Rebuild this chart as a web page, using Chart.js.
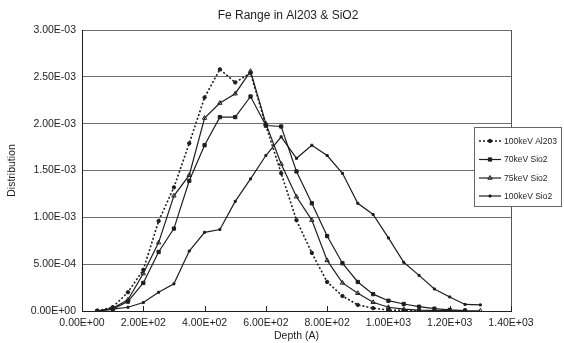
<!DOCTYPE html>
<html>
<head>
<meta charset="utf-8">
<script src="https://cdn.jsdelivr.net/npm/chart.js@4/dist/chart.umd.min.js"></script>
<style>
  html, body { margin: 0; padding: 0; background: #fff; }
  canvas { display: block; }
</style>
</head>
<body>
<canvas id="c" width="564" height="343"></canvas>
<script>
// Depth in angstroms, sampled every 50 A
const depth = [50, 100, 150, 200, 250, 300, 350, 400, 450, 500, 550, 600, 650,
               700, 750, 800, 850, 900, 950, 1000, 1050, 1100, 1150, 1200, 1250, 1300];

// Fe distribution per implant condition (null = no sample)
const al2o3_100keV = [0, 0.00004, 0.00020, 0.00044, 0.00096, 0.00132, 0.00179, 0.00228, 0.00258, 0.00244, 0.00254, 0.00198, 0.00147,
                      0.00097, 0.00062, 0.00031, 0.00016, 0.000065, 0.00003, 0.00001, 0.000005, 0.000002, null, null, null, null];
const sio2_70keV   = [0, 0.00002, 0.00010, 0.00030, 0.00063, 0.00088, 0.00139, 0.00177, 0.00207, 0.00207, 0.00229, 0.00198, 0.00197,
                      0.00149, 0.00115, 0.00080, 0.00051, 0.00031, 0.00018, 0.00011, 0.000075, 0.000046, 0.000025, 0.000012, 0.000005, null];
const sio2_75keV   = [0, 0.00003, 0.00012, 0.00040, 0.00073, 0.00123, 0.00145, 0.00206, 0.00222, 0.00232, 0.00256, 0.00200, 0.00157,
                      0.00122, 0.00097, 0.00054, 0.00030, 0.00019, 0.000093, 0.00004, 0.00002, 0.00001, 0.000005, 0.000003, 0.000002, 0.000002];
const sio2_100keV  = [0, 0.00002, 0.00004, 0.00009, 0.00020, 0.00029, 0.00064, 0.00084, 0.00087, 0.00117, 0.00141, 0.00166, 0.00186,
                      0.00163, 0.00177, 0.00166, 0.00147, 0.00115, 0.00103, 0.00078, 0.00052, 0.00038, 0.000235, 0.00015, 0.00007, 0.000065];

const seriesLabels = ['100keV Al203', '70keV Sio2', '75keV Sio2', '100keV Sio2'];
const chartTitle = 'Fe Range in Al203 & SiO2';
const xTitle = 'Depth (A)';
const yTitle = 'Distribution';

// axis ranges and tick steps
const xMin = 0, xMax = 1400, xStep = 200;
const yMin = 0, yMax = 0.003, yStep = 0.0005;

const INK = '#1e1e1e';
const FONT = '"Liberation Sans", Arial, Helvetica, sans-serif';

function toPoints(values) {
  const pts = [];
  values.forEach((v, i) => { if (v !== null) pts.push({ x: depth[i], y: v }); });
  return pts;
}

// Spreadsheet-style scientific notation: 2.50E-03
function sci(v) {
  if (Math.abs(v) < 1e-12) return '0.00E+00';
  let e = Math.floor(Math.log10(Math.abs(v)) + 1e-9);
  let m = v / Math.pow(10, e);
  if (Math.abs(m) >= 9.995) { m /= 10; e += 1; }
  const sign = e < 0 ? '-' : '+';
  const ee = String(Math.abs(e)).padStart(2, '0');
  return m.toFixed(2) + 'E' + sign + ee;
}

const styles = [
  { borderDash: [2, 2], borderWidth: 1.6, pointStyle: 'circle', pointRadius: 1.7, pointBackgroundColor: INK },
  { borderDash: [], borderWidth: 1.2, pointStyle: 'rect', pointRadius: 2.3, pointBackgroundColor: INK },
  { borderDash: [], borderWidth: 1.2, pointStyle: 'triangle', pointRadius: 2.5, pointBackgroundColor: 'rgba(255,255,255,0)' },
  { borderDash: [], borderWidth: 1.2, pointStyle: 'rect', pointRadius: 1.4, pointBackgroundColor: INK }
];
const seriesValues = [al2o3_100keV, sio2_70keV, sio2_75keV, sio2_100keV];

const datasets = seriesValues.map((vals, i) => Object.assign({
  label: seriesLabels[i],
  data: toPoints(vals),
  borderColor: INK,
  pointBorderColor: INK,
  pointBorderWidth: 1,
  tension: 0,
  fill: false
}, styles[i]));

// Title, inner tick marks, plot frame and boxed legend
const decorations = {
  id: 'decorations',
  beforeDatasetsDraw(chart) {
    const { ctx, chartArea: a, scales: { x } } = chart;
    ctx.save();
    ctx.strokeStyle = '#555';
    ctx.lineWidth = 1;
    ctx.beginPath();
    ctx.moveTo(Math.round(a.right) + 0.5, a.top);
    ctx.lineTo(Math.round(a.right) + 0.5, a.bottom);
    ctx.stroke();
    ctx.strokeStyle = INK;
    ctx.beginPath();
    x.ticks.forEach(t => {
      const px = Math.round(x.getPixelForValue(t.value)) + 0.5;
      ctx.moveTo(px, a.bottom);
      ctx.lineTo(px, a.bottom - 5);
    });
    ctx.stroke();
    ctx.restore();
  },
  afterDraw(chart) {
    const { ctx } = chart;
    ctx.save();
    // title
    ctx.fillStyle = INK;
    ctx.font = '12px ' + FONT;
    ctx.textAlign = 'center';
    ctx.textBaseline = 'middle';
    ctx.fillText(chartTitle, 288, 16);

    // legend box
    const bx = 474.5, by = 127.5, bw = 87, bh = 79;
    ctx.fillStyle = '#fff';
    ctx.fillRect(bx, by, bw, bh);
    ctx.strokeStyle = '#666';
    ctx.lineWidth = 1;
    ctx.strokeRect(bx, by, bw, bh);
    ctx.font = '8.5px ' + FONT;
    ctx.textAlign = 'left';
    const rows = [141, 159.5, 178, 196];
    chart.data.datasets.forEach((ds, i) => {
      const y = rows[i];
      ctx.strokeStyle = INK;
      ctx.lineWidth = ds.borderWidth;
      ctx.setLineDash(ds.borderDash || []);
      ctx.beginPath();
      ctx.moveTo(479, y);
      ctx.lineTo(501, y);
      ctx.stroke();
      ctx.setLineDash([]);
      ctx.fillStyle = ds.pointBackgroundColor;
      ctx.lineWidth = 1;
      if (Chart.helpers && Chart.helpers.drawPoint) {
        Chart.helpers.drawPoint(ctx, {
          pointStyle: ds.pointStyle, radius: ds.pointRadius, rotation: 0, borderWidth: 1
        }, 490, y);
      }
      ctx.fillStyle = INK;
      ctx.fillText(ds.label, 504, y + 0.5);
    });
    ctx.restore();
  }
};

Chart.defaults.font.family = FONT;
Chart.defaults.color = INK;

new Chart(document.getElementById('c'), {
  type: 'line',
  data: { datasets },
  plugins: [decorations],
  options: {
    responsive: false,
    animation: false,
    devicePixelRatio: 1,
    layout: { padding: { top: 30, right: 53, bottom: 0, left: 0 } },
    plugins: { legend: { display: false }, title: { display: false }, tooltip: { enabled: false } },
    scales: {
      x: {
        type: 'linear',
        min: xMin, max: xMax,
        ticks: { stepSize: xStep, callback: v => sci(v), font: { size: 10.5 }, padding: 6, maxRotation: 0, autoSkip: false, color: INK },
        grid: { display: true, drawOnChartArea: false, drawTicks: false },
        border: { color: INK, width: 1 },
        title: { display: true, text: xTitle, font: { size: 10.5 }, padding: { top: 0, bottom: 1 }, color: INK },
        afterFit(s) { s.height = 32; s.paddingLeft = 0; s.paddingRight = 0; }
      },
      y: {
        min: yMin, max: yMax,
        ticks: { stepSize: yStep, callback: v => sci(v), font: { size: 10.5 }, padding: 6, color: INK },
        grid: { color: '#6e6e6e', lineWidth: 1, drawTicks: false },
        border: { color: INK, width: 1 },
        title: { display: true, text: yTitle, font: { size: 10.5 }, padding: { top: 6, bottom: 0 }, color: INK },
        afterFit(s) { s.width = 82; s.paddingTop = 0; s.paddingBottom = 0; }
      }
    }
  }
});
</script>
</body>
</html>
